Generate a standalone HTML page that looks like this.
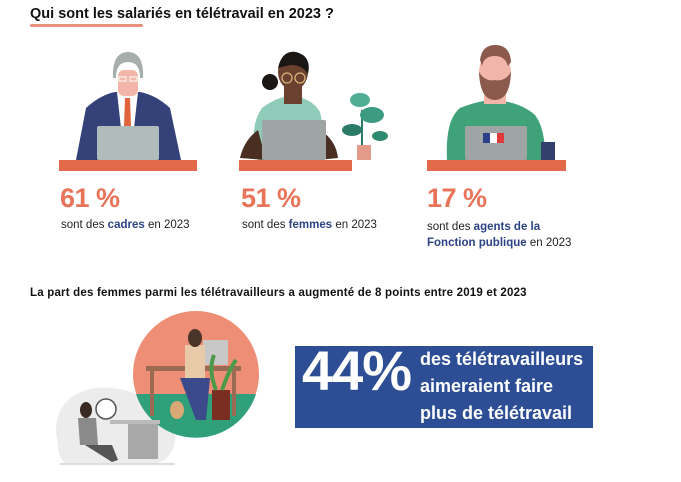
<!DOCTYPE html>
<html><head><meta charset="utf-8"><style>
body{margin:0;width:681px;height:482px;background:#fff;overflow:hidden;position:relative;font-family:"Liberation Sans",sans-serif}
.t{position:absolute;white-space:nowrap}
.p{color:#e8745a;font-weight:bold;font-size:27px;letter-spacing:-0.5px}
.s{font-size:11.5px;color:#222}
.s b{color:#2c4384}
</style></head><body>
<div class="t" style="left:30px;top:6px;font-size:14.5px;font-weight:bold;color:#111">Qui sont les salariés en télétravail en 2023 ?</div>
<div style="position:absolute;left:30px;top:24px;width:113px;height:3px;background:#e8907e;border-radius:2px"></div>

<svg style="position:absolute;left:0;top:0" width="681" height="482">
<!-- man 1 -->
<path d="M76 160 L86 108 Q100 95 115 92 L140 92 Q156 95 170 108 L181 160 Z" fill="#35427a"/>
<path d="M117 92 L138 92 L134 128 L121 128 Z" fill="#fff"/>
<path d="M125 98 L130 98 L131 126 L124 126 Z" fill="#e0653d"/>
<rect x="118" y="70" width="20" height="26" rx="6" fill="#f2b6a8"/>
<path d="M113 78 Q112 52 128 52 Q144 52 143 78 L140 78 Q140 62 128 62 Q116 62 116 78 Z" fill="#a7adab"/>
<rect x="119" y="77" width="7" height="4" fill="none" stroke="#fff" stroke-width="1"/><rect x="130" y="77" width="7" height="4" fill="none" stroke="#fff" stroke-width="1"/>
<rect x="97" y="126" width="62" height="34" rx="2" fill="#b1bcba"/>
<rect x="59" y="160" width="138" height="11" fill="#e2694a"/>
<!-- woman -->
<path d="M258 160 Q248 128 262 108 Q278 96 292 96 Q312 98 320 112 Q326 135 316 160 Z" fill="#8fcbb8"/>
<path d="M240 158 Q244 140 258 130 L266 160 Z" fill="#4a2e22"/>
<path d="M320 130 Q336 140 338 158 L318 160 Z" fill="#4a2e22"/>
<rect x="284" y="82" width="18" height="22" fill="#6a412f"/>
<ellipse cx="293" cy="72" rx="15" ry="18" fill="#6a412f"/>
<path d="M278 68 Q282 50 296 52 Q312 56 308 74 Q300 62 286 66 Z" fill="#1b1715"/>
<circle cx="270" cy="82" r="8" fill="#1b1715"/>
<circle cx="287" cy="78" r="5" fill="none" stroke="#d8b27a" stroke-width="1.3"/><circle cx="300" cy="78" r="5" fill="none" stroke="#d8b27a" stroke-width="1.3"/>
<rect x="262" y="120" width="64" height="40" rx="2" fill="#9fa4a4"/>
<path d="M362 148 L362 110" stroke="#2b7a68" stroke-width="2"/>
<rect x="357" y="145" width="14" height="15" fill="#e49a88"/>
<ellipse cx="352" cy="130" rx="10" ry="6" fill="#2b7a68"/><ellipse cx="372" cy="115" rx="12" ry="8" fill="#3e9b83"/><ellipse cx="360" cy="100" rx="10" ry="7" fill="#4fae95"/><ellipse cx="380" cy="136" rx="8" ry="5" fill="#2f8a72"/>
<rect x="239" y="160" width="113" height="11" fill="#e2694a"/>
<!-- man 3 -->
<path d="M447 160 Q445 120 460 108 Q480 100 495 100 Q520 102 535 115 Q546 130 545 160 Z" fill="#3fa279"/>
<rect x="484" y="80" width="22" height="24" fill="#f2b6a8"/>
<ellipse cx="495" cy="72" rx="16" ry="20" fill="#f2b6a8"/>
<path d="M480 60 Q482 45 495 45 Q510 45 511 62 L508 66 Q505 56 495 56 Q484 56 482 66 Z" fill="#8c5a4c"/>
<path d="M479 72 Q480 100 495 100 Q510 100 511 72 Q505 82 495 80 Q485 82 479 72 Z" fill="#8c5a4c"/>
<rect x="465" y="126" width="62" height="34" rx="2" fill="#9fa4a4"/>
<rect x="483" y="133" width="7" height="10" fill="#2c3f8a"/><rect x="490" y="133" width="7" height="10" fill="#fff"/><rect x="497" y="133" width="7" height="10" fill="#e03a3a"/>
<rect x="541" y="142" width="14" height="18" fill="#33406b"/>
<rect x="427" y="160" width="139" height="11" fill="#e2694a"/>
<!-- bottom illustration -->
<path d="M58 445 Q50 410 75 395 Q100 380 140 395 Q175 400 175 430 Q178 460 150 465 L70 465 Q58 462 58 445 Z" fill="#ececec"/>
<circle cx="196" cy="374" r="63" fill="#ee8e76"/>
<path d="M136 394 L256 394 A63 63 0 0 1 136 394 Z" fill="#2fa07a"/>
<rect x="146" y="366" width="95" height="5" fill="#9a6a52"/>
<rect x="150" y="371" width="4" height="45" fill="#9a6a52"/><rect x="232" y="371" width="4" height="45" fill="#9a6a52"/>
<rect x="203" y="340" width="25" height="25" fill="#c8c8c8"/>
<rect x="185" y="345" width="20" height="35" fill="#e9caa8"/><ellipse cx="195" cy="338" rx="7" ry="9" fill="#4a3428"/>
<path d="M180 378 L210 378 L206 420 L196 420 Z" fill="#3b4a8a"/>
<rect x="212" y="390" width="18" height="30" fill="#7a2e22"/>
<path d="M216 390 Q208 370 214 355 M222 390 Q230 368 236 360" stroke="#4d9a4a" stroke-width="4" fill="none"/>
<ellipse cx="177" cy="410" rx="7" ry="9" fill="#d9a875"/>
<circle cx="106" cy="409" r="10" fill="#fff" stroke="#555" stroke-width="1.5"/>
<rect x="110" y="420" width="50" height="4" fill="#bbb"/><rect x="128" y="424" width="30" height="35" fill="#a9a9a9"/>
<ellipse cx="86" cy="410" rx="6" ry="8" fill="#3a2a22"/>
<path d="M78 418 L96 418 L98 445 L80 445 Z" fill="#8a8a8a"/>
<path d="M85 445 L112 445 L118 460 L112 462 Z" fill="#555"/>
<rect x="60" y="463" width="115" height="2" fill="#ddd"/>
</svg>

<div class="t p" style="left:60px;top:183px">61 %</div>
<div class="t p" style="left:241px;top:183px">51 %</div>
<div class="t p" style="left:427px;top:183px">17 %</div>
<div class="t s" style="left:61px;top:219px">sont des <b>cadres</b> en 2023</div>
<div class="t s" style="left:242px;top:219px">sont des <b>femmes</b> en 2023</div>
<div class="t s" style="left:427px;top:219px;line-height:16px">sont des <b>agents de la</b><br><b>Fonction publique</b> en 2023</div>

<div class="t" style="left:30px;top:287px;font-size:11.5px;font-weight:bold;color:#111;letter-spacing:0.2px">La part des femmes parmi les télétravailleurs a augmenté de 8 points entre 2019 et 2023</div>

<div style="position:absolute;left:295px;top:346px;width:298px;height:82px;background:#2d4e94"></div>
<div class="t" style="left:302px;top:338px;font-size:56px;font-weight:bold;color:#fff;letter-spacing:-1px">44%</div>
<div class="t" style="left:420px;top:346px;font-size:18px;font-weight:bold;color:#fff;line-height:27px">des télétravailleurs<br>aimeraient faire<br>plus de télétravail</div>
</body></html>
